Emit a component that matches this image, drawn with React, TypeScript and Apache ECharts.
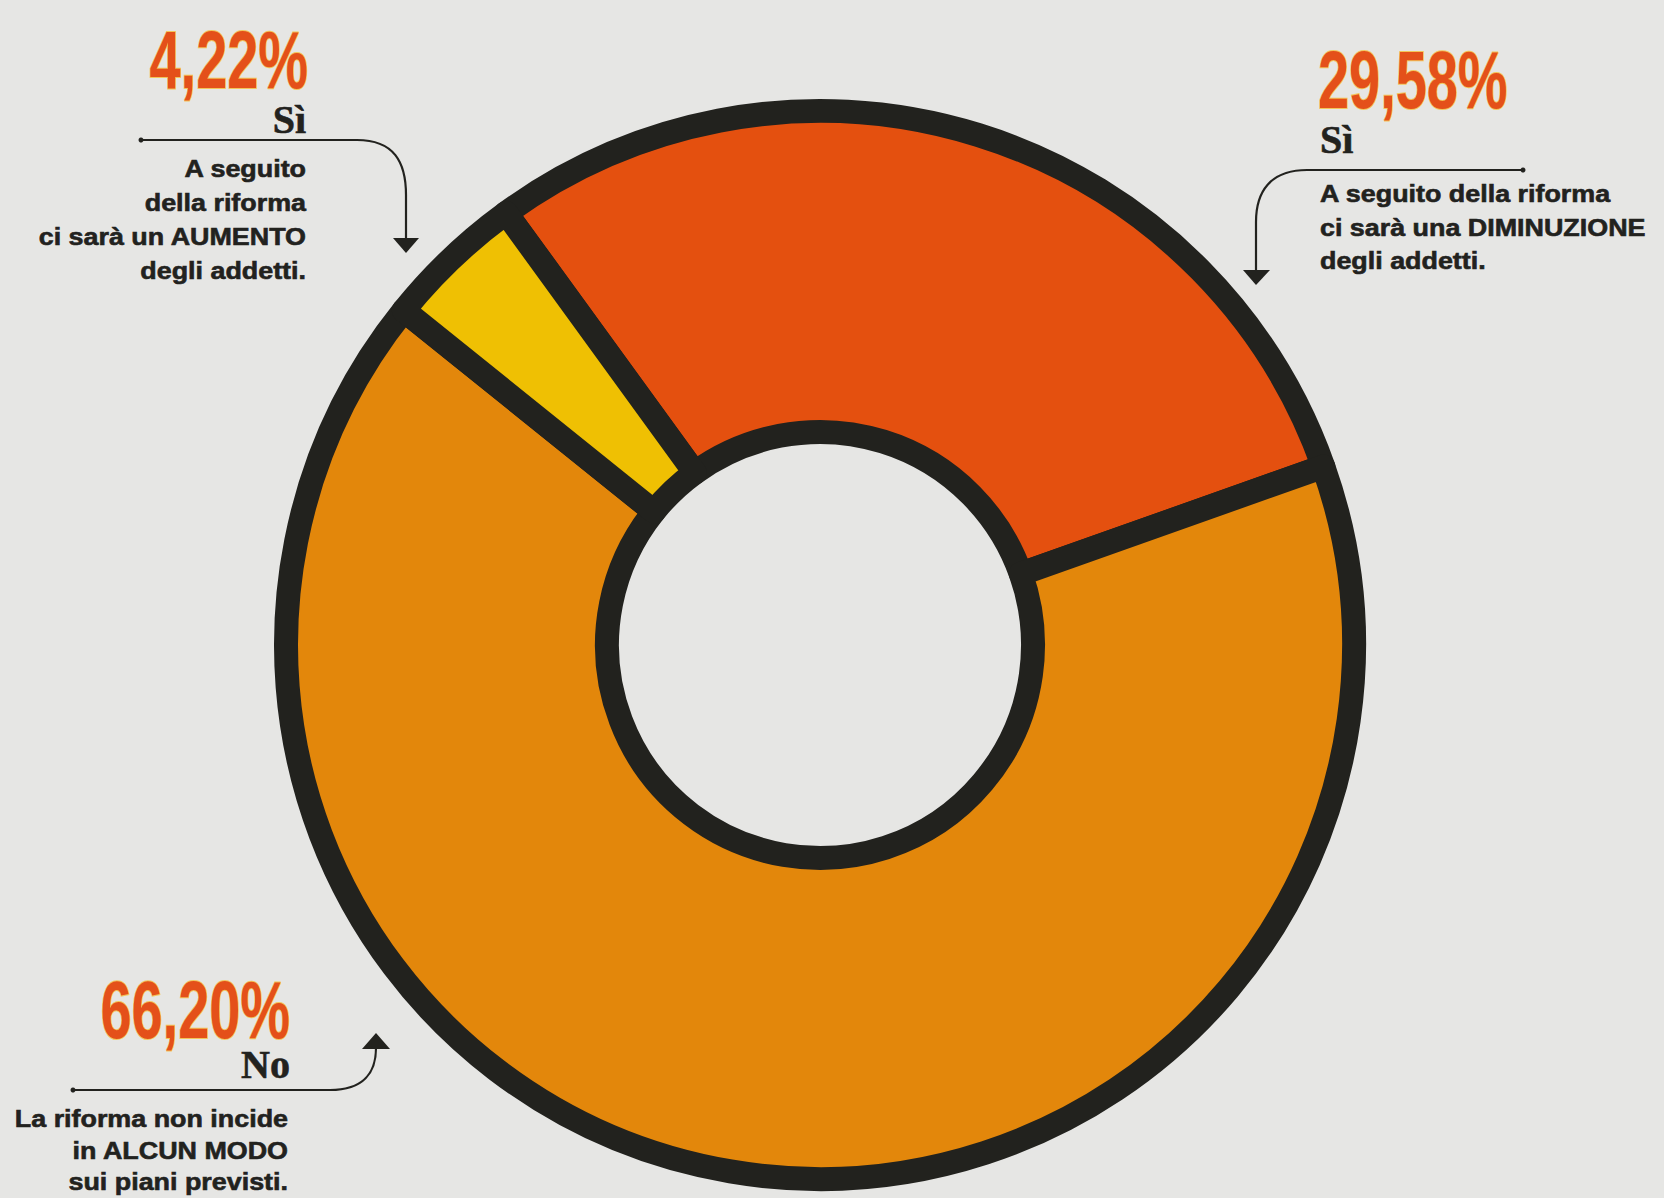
import React, { useEffect, useRef } from "react";
import * as echarts from "echarts";

// ---- data ----
const sliceNames = ["Sì – diminuzione", "No – nessun effetto", "Sì – aumento"];
const sliceValues = [29.58, 66.2, 4.22];
const sliceColors = ["#e4500f", "#e3870b", "#efc003"];
const pctLabels = ["29,58%", "66,20%", "4,22%"];
const answerLabels = ["Sì", "No", "Sì"];
const descDim = ["A seguito della riforma", "ci sarà una DIMINUZIONE", "degli addetti."];
const descNo = ["La riforma non incide", "in ALCUN MODO", "sui piani previsti."];
const descAum = ["A seguito", "della riforma", "ci sarà un AUMENTO", "degli addetti."];

const W = 1664;
const H = 1198;
const INK = "#22221e";
const SANS = "'Liberation Sans', Arial, sans-serif";
const SERIF = "'Liberation Serif', 'Times New Roman', serif";

function pct(text: string, x: number, baseline: number, align: "left" | "right") {
  const fs = 81;
  return {
    type: "text",
    x,
    y: baseline - 0.35 * fs,
    scaleX: 0.69,
    style: {
      text,
      font: `bold ${fs}px ${SANS}`,
      fill: "#e4501a",
      stroke: "#f3c55a",
      lineWidth: 2,
      textAlign: align,
      textVerticalAlign: "middle",
    },
  };
}

function answer(text: string, x: number, baseline: number, align: "left" | "right") {
  const fs = 40;
  return {
    type: "text",
    x,
    y: baseline - 0.33 * fs,
    style: {
      text,
      font: `bold ${fs}px ${SERIF}`,
      fill: INK,
      stroke: INK,
      lineWidth: 0.6,
      textAlign: align,
      textVerticalAlign: "middle",
    },
  };
}

function lines(texts: string[], x: number, baselines: number[], align: "left" | "right") {
  const fs = 24;
  return texts.map((t, i) => ({
    type: "text",
    x,
    y: baselines[i] - 0.35 * fs,
    scaleX: 1.12,
    style: {
      text: t,
      font: `bold ${fs}px ${SANS}`,
      fill: INK,
      stroke: INK,
      lineWidth: 0.6,
      textAlign: align,
      textVerticalAlign: "middle",
    },
  }));
}

const lineStyle = { stroke: INK, lineWidth: 2.2, fill: null as any };

export default function App() {
  const ref = useRef<HTMLDivElement>(null);
  useEffect(() => {
    document.body.style.margin = "0";
    const chart = echarts.init(ref.current!, null, { renderer: "svg" });
    chart.setOption({
      animation: false,
      backgroundColor: "#e6e6e4",
      series: [
        {
          type: "pie",
          center: [820, 645],
          radius: [213, 534],
          startAngle: 126,
          clockwise: true,
          silent: true,
          label: { show: false },
          labelLine: { show: false },
          itemStyle: { borderColor: INK, borderWidth: 24 },
          data: sliceNames.map((n, i) => ({
            name: n,
            value: sliceValues[i],
            itemStyle: { color: sliceColors[i] },
          })),
        },
      ],
      graphic: [
        // top-left: aumento
        pct(pctLabels[2], 308, 88, "right"),
        answer(answerLabels[2], 306, 133, "right"),
        ...lines(descAum, 306, [177, 211, 245, 279], "right"),
        { type: "circle", shape: { cx: 141, cy: 140, r: 2.5 }, style: { fill: INK } },
        { type: "line", shape: { x1: 140, y1: 140, x2: 357, y2: 140 }, style: lineStyle },
        {
          type: "bezierCurve",
          shape: { x1: 357, y1: 140, cpx1: 394, cpy1: 140, cpx2: 406, cpy2: 162, x2: 406, y2: 195 },
          style: lineStyle,
        },
        { type: "line", shape: { x1: 406, y1: 195, x2: 406, y2: 240 }, style: lineStyle },
        { type: "polygon", shape: { points: [[393, 238], [419, 238], [406, 253]] }, style: { fill: INK } },

        // top-right: diminuzione
        pct(pctLabels[0], 1318, 108, "left"),
        answer(answerLabels[0], 1320, 153, "left"),
        ...lines(descDim, 1320, [202, 236, 269], "left"),
        { type: "line", shape: { x1: 1307, y1: 170, x2: 1523, y2: 170 }, style: lineStyle },
        { type: "circle", shape: { cx: 1523, cy: 170, r: 2.5 }, style: { fill: INK } },
        {
          type: "bezierCurve",
          shape: { x1: 1307, y1: 170, cpx1: 1270, cpy1: 170, cpx2: 1256, cpy2: 192, x2: 1256, y2: 222 },
          style: lineStyle,
        },
        { type: "line", shape: { x1: 1256, y1: 222, x2: 1256, y2: 272 }, style: lineStyle },
        { type: "polygon", shape: { points: [[1243, 270], [1270, 270], [1256, 285]] }, style: { fill: INK } },

        // bottom-left: no
        pct(pctLabels[1], 290, 1038, "right"),
        answer(answerLabels[1], 290, 1078, "right"),
        ...lines(descNo, 288, [1127, 1159, 1190], "right"),
        { type: "circle", shape: { cx: 73, cy: 1090, r: 2.5 }, style: { fill: INK } },
        { type: "line", shape: { x1: 72, y1: 1090, x2: 330, y2: 1090 }, style: lineStyle },
        {
          type: "bezierCurve",
          shape: { x1: 330, y1: 1090, cpx1: 364, cpy1: 1090, cpx2: 376, cpy2: 1072, x2: 376, y2: 1048 },
          style: lineStyle,
        },
        { type: "polygon", shape: { points: [[362, 1049], [390, 1049], [376, 1033]] }, style: { fill: INK } },
      ],
    });
    return () => chart.dispose();
  }, []);
  return (
    <div
      ref={ref}
      style={{ position: "absolute", left: 0, top: 0, width: W, height: H }}
    />
  );
}
